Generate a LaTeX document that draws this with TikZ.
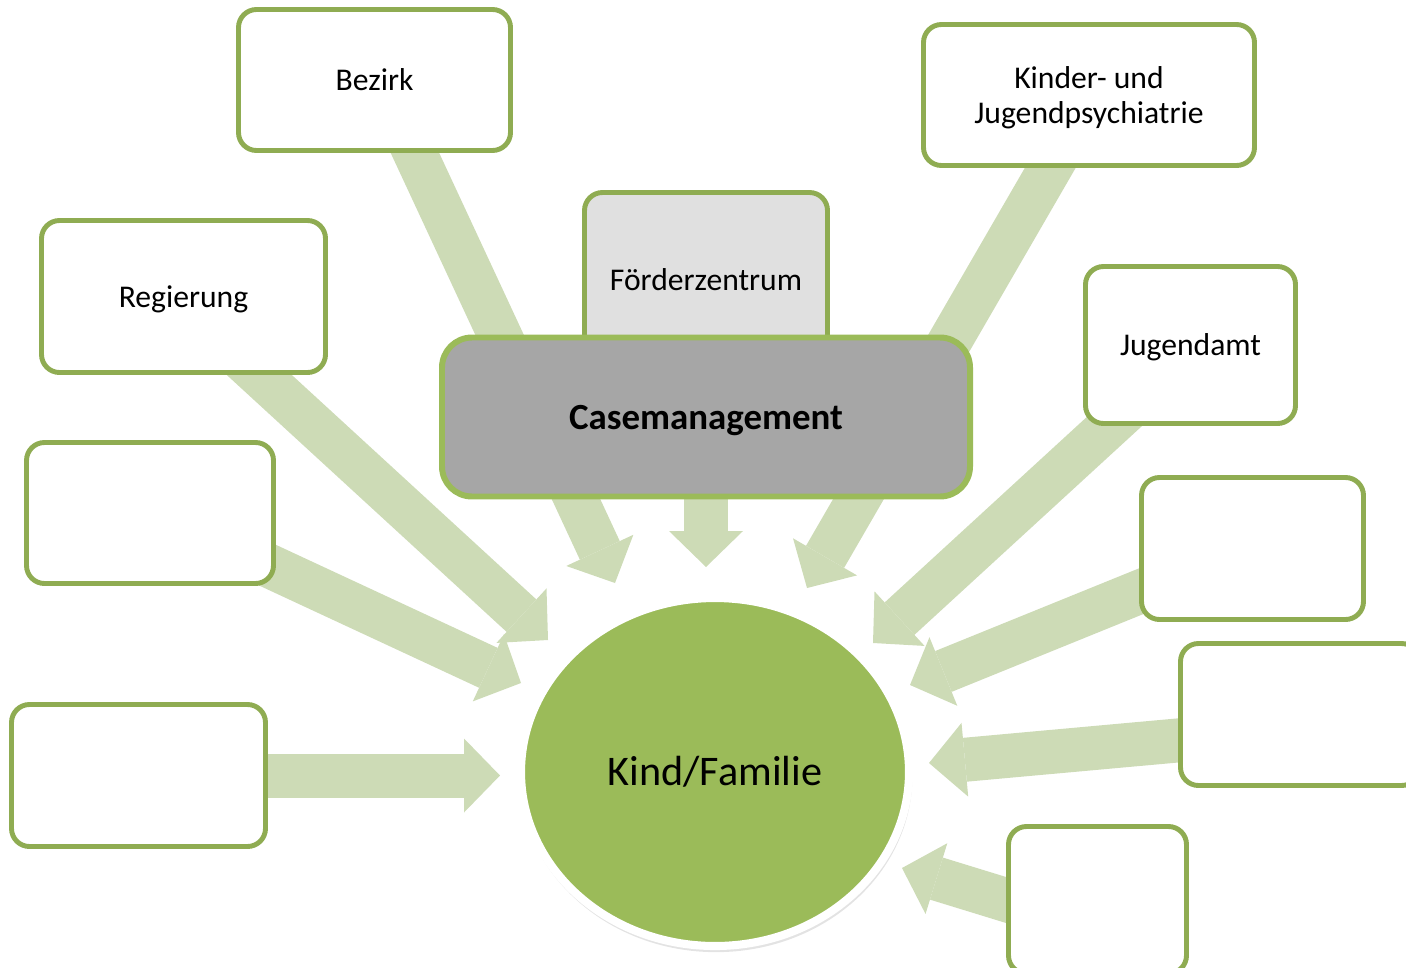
\documentclass[tikz,border=0pt]{standalone}
\usepackage{fontspec}
\setmainfont{Carlito}
\usetikzlibrary{arrows.meta, shapes, shadows, calc, positioning}
\definecolor{boxgreen}{RGB}{143,172,82}
\definecolor{casegreen}{RGB}{155,187,89}
\definecolor{arrowgreen}{RGB}{205,219,182}
\definecolor{casegray}{RGB}{166,166,166}
\definecolor{foerdergray}{RGB}{224,224,224}
\tikzstyle{box} = [draw=boxgreen, line width=1.4pt, rounded corners=0.18cm, fill=white, align=center, text depth=0pt, font=\fontsize{9}{10}\selectfont]
\tikzstyle{flow} = [draw=arrowgreen, line width=0.44cm, -{Triangle[length=0.36cm, width=0.74cm, line width=0pt]}]
\tikzstyle{centre} = [ellipse, draw=white, line width=2.3pt, fill=casegreen, font=\fontsize{12}{14}\selectfont, drop shadow={opacity=0.22, shadow scale=1.012, shadow xshift=0.01cm, shadow yshift=-0.04cm}]
\pgfdeclarelayer{back}
\pgfsetlayers{back,main}

\begin{document}
\begin{tikzpicture}
	\useasboundingbox (0,0) rectangle (14.06,-9.67);

	\node (Bezirk) [box, minimum width=2.72cm, minimum height=1.41cm] at (3.745, -0.80) {Bezirk};
	\node (Kinder) [box, minimum width=3.31cm, minimum height=1.41cm] at (10.89, -0.95) {Kinder- und\\Jugendpsychiatrie};
	\node (Regierung) [box, minimum width=2.84cm, minimum height=1.52cm] at (1.835, -2.965) {Regierung};
	\node (Jugendamt) [box, minimum width=2.10cm, minimum height=1.57cm] at (11.905, -3.45) {Jugendamt};
	\node (Foerder) [box, fill=foerdergray, minimum width=2.43cm, minimum height=1.75cm] at (7.06, -2.80) {Förderzentrum};
	\node (Case) [box, draw=casegreen, fill=casegray, line width=1.7pt, rounded corners=0.3cm, minimum width=5.28cm, minimum height=1.59cm, font=\bfseries\fontsize{10.5}{12}\selectfont] at (7.06, -4.17) {Casemanagement};

	\node (BoxL1) [box, minimum width=2.47cm, minimum height=1.41cm] at (1.50, -5.13) {};
	\node (BoxL2) [box, minimum width=2.54cm, minimum height=1.42cm] at (1.385, -7.755) {};
	\node (BoxR1) [box, minimum width=2.22cm, minimum height=1.42cm] at (12.525, -5.485) {};
	\node (BoxR2) [box, minimum width=2.39cm, minimum height=1.42cm] at (13.00, -7.145) {};
	\node (BoxR3) [box, minimum width=1.78cm, minimum height=1.47cm] at (10.975, -9.00) {};

	\node (Kind) [centre, minimum width=3.88cm, minimum height=3.48cm] at (7.15, -7.72) {Kind/Familie};

	\coordinate (TipBezirk) at (6.15, -5.83);
	\coordinate (TipRegierung) at (5.48, -6.40);
	\coordinate (TipL1) at (5.21, -6.83);
	\coordinate (TipL2) at (5.00, -7.755);
	\coordinate (TipKinder) at (8.07, -5.88);
	\coordinate (TipFoerder) at (7.06, -5.67);
	\coordinate (TipJugendamt) at (8.73, -6.43);
	\coordinate (TipR1) at (9.10, -6.85);
	\coordinate (TipR2) at (9.29, -7.63);
	\coordinate (TipR3) at (9.02, -8.68);

	\begin{pgfonlayer}{back}
		\draw [flow] ($(Bezirk.-61)!-0.4cm!(TipBezirk)$) -- (TipBezirk);
		\draw [flow] ($(Regierung.-46)!-0.4cm!(TipRegierung)$) -- (TipRegierung);
		\draw [flow] ($(BoxL1.-24)!-0.4cm!(TipL1)$) -- (TipL1);
		\draw [flow] ($(BoxL2.east)!-0.4cm!(TipL2)$) -- (TipL2);
		\draw [flow] ($(Kinder.-118)!-0.4cm!(TipKinder)$) -- (TipKinder);
		\draw [flow] (Foerder.center) -- (TipFoerder);
		\draw [flow] ($(Jugendamt.-135)!-0.4cm!(TipJugendamt)$) -- (TipJugendamt);
		\draw [flow] ($(BoxR1.201)!-0.4cm!(TipR1)$) -- (TipR1);
		\draw [flow] ($(BoxR2.192)!-0.4cm!(TipR2)$) -- (TipR2);
		\draw [flow] ($(BoxR3.west)!-0.4cm!(TipR3)$) -- (TipR3);
	\end{pgfonlayer}

\end{tikzpicture}
\end{document}
